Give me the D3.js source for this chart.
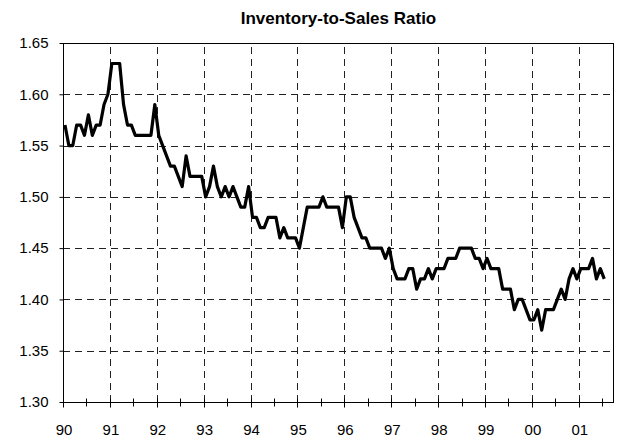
<!DOCTYPE html>
<html><head><meta charset="utf-8">
<script src="https://cdn.jsdelivr.net/npm/d3@7"></script>
<style>body{margin:0;background:#fff}svg{display:block}text{font-family:"Liberation Sans",Arial,sans-serif}</style>
</head><body>
<script>
const title = "Inventory-to-Sales Ratio";
const startYear = 1990;
const ratio = [
 1.57,1.55,1.55,1.57,1.57,1.56,1.58,1.56,1.57,1.57,1.59,1.60,
 1.63,1.63,1.63,1.59,1.57,1.57,1.56,1.56,1.56,1.56,1.56,1.59,
 1.56,1.55,1.54,1.53,1.53,1.52,1.51,1.54,1.52,1.52,1.52,1.52,
 1.50,1.51,1.53,1.51,1.50,1.51,1.50,1.51,1.50,1.49,1.49,1.51,
 1.48,1.48,1.47,1.47,1.48,1.48,1.48,1.46,1.47,1.46,1.46,1.46,
 1.45,1.47,1.49,1.49,1.49,1.49,1.50,1.49,1.49,1.49,1.49,1.47,
 1.50,1.50,1.48,1.47,1.46,1.46,1.45,1.45,1.45,1.45,1.44,1.45,
 1.43,1.42,1.42,1.42,1.43,1.43,1.41,1.42,1.42,1.43,1.42,1.43,
 1.43,1.43,1.44,1.44,1.44,1.45,1.45,1.45,1.45,1.44,1.44,1.43,
 1.44,1.43,1.43,1.43,1.41,1.41,1.41,1.39,1.40,1.40,1.39,1.38,
 1.38,1.39,1.37,1.39,1.39,1.39,1.40,1.41,1.40,1.42,1.43,1.42,
 1.43,1.43,1.43,1.44,1.42,1.43,1.42
];
const yearTicks = [1990,1991,1992,1993,1994,1995,1996,1997,1998,1999,2000,2001];
const yearLabels = ["90","91","92","93","94","95","96","97","98","99","00","01"];
const minorTicks = [1990.5,1991.5,1992.5,1993.5,1994.5,1995.5,1996.5,1997.5,1998.5,1999.5,2000.5,2001.5];
const yTicks = [1.30,1.35,1.40,1.45,1.50,1.55,1.60,1.65];

const W = 617, H = 441;
const m = {left:63, right:3, top:43, bottom:39};
const svg = d3.select("body").append("svg").attr("width",W).attr("height",H);
const x = d3.scaleLinear().domain([1990, 2001.75]).range([m.left, W-m.right]);
const y = d3.scaleLinear().domain([1.30, 1.65]).range([H-m.bottom, m.top]);

// grid
const g = svg.append("g");
g.selectAll(".hg").data(yTicks.slice(1,-1)).join("line")
 .attr("x1",x.range()[0]).attr("x2",x.range()[1])
 .attr("y1",d=>Math.round(y(d))+0.5).attr("y2",d=>Math.round(y(d))+0.5)
 .attr("stroke","#222").attr("stroke-dasharray","7,5");
g.selectAll(".vg").data(yearTicks.slice(1)).join("line")
 .attr("y1",y.range()[0]).attr("y2",y.range()[1])
 .attr("x1",d=>Math.round(x(d))+0.5).attr("x2",d=>Math.round(x(d))+0.5)
 .attr("stroke","#222").attr("stroke-dasharray","7,5");

// line
const line = d3.line().x((d,i)=>x(startYear+(i+0.5)/12)).y(d=>y(d));
svg.append("path").datum(ratio).attr("d",line).attr("fill","none")
 .attr("stroke","#000").attr("stroke-width",3.2).attr("stroke-linejoin","round");

// frame
svg.append("rect").attr("x",m.left+0.5).attr("y",m.top+0.5)
 .attr("width",x.range()[1]-m.left-1).attr("height",y.range()[0]-m.top)
 .attr("fill","none").attr("stroke","#000");

// y axis
const ya = svg.append("g").attr("transform",`translate(${m.left+0.5},0)`)
 .call(d3.axisLeft(y).tickValues(yTicks).tickFormat(d3.format(".2f")).tickSize(4).tickPadding(11));
ya.select(".domain").remove();
ya.selectAll("text").attr("font-size",15).attr("fill","#000").attr("font-family","Liberation Sans, Arial");

// x axis
const by = Math.round(y.range()[0])+0.5;
const xa = svg.append("g").attr("transform",`translate(0,${by})`);
xa.selectAll(".mj").data(yearTicks).join("line")
 .attr("x1",d=>Math.round(x(d))+0.5).attr("x2",d=>Math.round(x(d))+0.5)
 .attr("y1",-4).attr("y2",5).attr("stroke","#000");
xa.selectAll(".mn").data(minorTicks).join("line")
 .attr("x1",d=>Math.round(x(d))+0.5).attr("x2",d=>Math.round(x(d))+0.5)
 .attr("y1",-4).attr("y2",4).attr("stroke","#000");
xa.selectAll(".lb").data(yearTicks).join("text")
 .attr("x",d=>x(d)+1).attr("y",32).attr("text-anchor","middle")
 .attr("font-size",15).text((d,i)=>yearLabels[i]);

svg.append("text").attr("x",(m.left+W-m.right)/2).attr("y",24)
 .attr("text-anchor","middle").attr("font-size",17).attr("font-weight","bold").text(title);
</script>
</body></html>
